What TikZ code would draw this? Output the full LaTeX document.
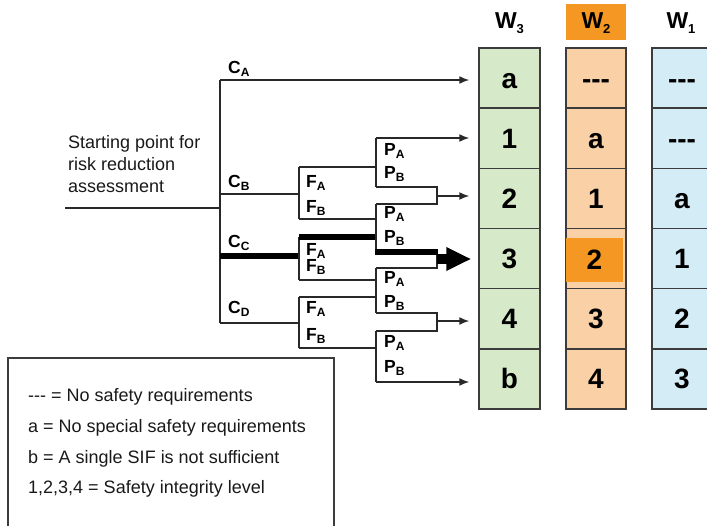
\documentclass[tikz,border=0pt]{standalone}
\usepackage{fontspec}
\setmainfont{Liberation Sans}
\usetikzlibrary{arrows.meta}
\definecolor{gfill}{RGB}{214,233,201}
\definecolor{ofill}{RGB}{250,208,166}
\definecolor{ohl}{RGB}{245,152,35}
\definecolor{bfill}{RGB}{212,236,245}
\definecolor{bordc}{RGB}{60,60,60}
\definecolor{linec}{RGB}{40,40,40}
\newcommand{\lsub}[1]{\raisebox{-0.4ex}{\fontsize{12}{12}\selectfont #1}}
\newcommand{\hsub}[1]{\raisebox{-0.4ex}{\fontsize{13}{13}\selectfont #1}}
\newcommand{\dashesB}{\mbox{-}\mbox{-}\mbox{-}}
\begin{document}
\begin{tikzpicture}[x=1pt,y=-1pt,line join=miter,
  tree/.style={line width=1.5pt, draw=linec},
  thk/.style={line width=6pt, draw=black},
  arr/.style={tree, -{Latex[length=10pt,width=8pt]}, shorten >=9pt},
  bigarr/.style={line width=10pt, draw=black, -{Triangle[length=25pt,width=22pt]}, shorten >=7pt},
  lab/.style={font=\fontsize{17.5}{17.5}\selectfont\bfseries, anchor=base west, inner sep=0pt, text=black},
  cellbox/.style={draw=bordc, line width=1.5pt, minimum width=61pt, minimum height=60.17pt, inner sep=0pt, text height=20pt, text depth=0pt, font=\fontsize{28}{28}\selectfont\bfseries},
  head/.style={inner sep=0pt, text height=16pt, text depth=3pt, font=\fontsize{23}{23}\selectfont\bfseries},
  legtext/.style={font=\fontsize{18}{18}\selectfont, anchor=base west, inner sep=0pt, text=black!90}]
\clip (0,0) rectangle (707,525);
\fill[white] (0,0) rectangle (707,525);

% headers
\node[head] (h3) at (509.5,22) {W\hsub{3}};
\node[head, fill=ohl, minimum width=60pt, minimum height=36pt] (h2) at (596,22) {W\hsub{2}};
\node[head] (h1) at (681,22) {W\hsub{1}};

% W3 column
\node[cellbox, fill=gfill] (w3a) at (509.5,78.1) {a};
\node[cellbox, fill=gfill] (w31) at (509.5,138.2) {1};
\node[cellbox, fill=gfill] (w32) at (509.5,198.4) {2};
\node[cellbox, fill=gfill] (w33) at (509.5,258.6) {3};
\node[cellbox, fill=gfill] (w34) at (509.5,318.8) {4};
\node[cellbox, fill=gfill] (w3b) at (509.5,378.9) {b};
% W2 column
\node[cellbox, fill=ofill, minimum width=60pt] (w2a) at (596,78.1) {\dashesB};
\node[cellbox, fill=ofill, minimum width=60pt] (w21) at (596,138.2) {a};
\node[cellbox, fill=ofill, minimum width=60pt] (w22) at (596,198.4) {1};
\node[cellbox, fill=ofill, minimum width=60pt] (w23) at (596,258.6) {};
\node[cellbox, fill=ofill, minimum width=60pt] (w24) at (596,318.8) {3};
\node[cellbox, fill=ofill, minimum width=60pt] (w2b) at (596,378.9) {4};
\node[cellbox, draw=none, fill=ohl, minimum width=57pt, minimum height=44pt] (hl) at (594.5,259.5) {2};
% W1 column
\node[cellbox, fill=bfill, minimum width=60pt] (w1a) at (682,78.1) {\dashesB};
\node[cellbox, fill=bfill, minimum width=60pt] (w11) at (682,138.2) {\dashesB};
\node[cellbox, fill=bfill, minimum width=60pt] (w12) at (682,198.4) {a};
\node[cellbox, fill=bfill, minimum width=60pt] (w13) at (682,258.6) {1};
\node[cellbox, fill=bfill, minimum width=60pt] (w14) at (682,318.8) {2};
\node[cellbox, fill=bfill, minimum width=60pt] (w1b) at (682,378.9) {3};

% start text
\node[legtext] (s1) at (68,148) {Starting point for};
\node[legtext] (s2) at (68,170) {risk reduction};
\node[legtext] (s3) at (68,192) {assessment};

% coordinates of the tree
\coordinate (st) at (65,208);
\coordinate (tS) at (220,208);
\coordinate (tA) at (220,80);
\coordinate (tB) at (220,194);
\coordinate (tC) at (220,256);
\coordinate (tD) at (220,323);
\coordinate (fB) at (299,194);
\coordinate (fBa) at (299,167);
\coordinate (fBb) at (299,219);
\coordinate (fC) at (299,256);
\coordinate (fCa) at (299,237);
\coordinate (fCb) at (299,280);
\coordinate (fD) at (299,323);
\coordinate (fDa) at (299,297);
\coordinate (fDb) at (299,348);
\coordinate (p1t) at (376,138);
\coordinate (p1b) at (376,187);
\coordinate (p2t) at (376,204);
\coordinate (p2b) at (376,252);
\coordinate (p3t) at (376,268);
\coordinate (p3b) at (376,313);
\coordinate (p4t) at (376,331);
\coordinate (p4b) at (376,382);
\coordinate (j1t) at (437,187);
\coordinate (j1b) at (437,204);
\coordinate (j1m) at (437,196);
\coordinate (j2t) at (437,252);
\coordinate (j2b) at (437,268);
\coordinate (j2m) at (437,259);
\coordinate (j3t) at (437,313);
\coordinate (j3b) at (437,331);
\coordinate (j3m) at (437,321);

% trunk
\draw[tree] (st) -- (tS);
\draw[tree] (tA) -- (tD);
\draw[arr] (tA) -- (tA -| w3a.west);
% C_B
\draw[tree] (tB) -- (fB);
\draw[tree] (fBa) -- (fBb);
\draw[tree] (fBa) -- (fBa -| p1t);
\draw[tree] (fBb) -- (fBb -| p2t);
% C_C
\draw[thk] (tC) -- (fC);
\draw[tree] (fCa) -- (fCb);
\draw[thk] (fCa) -- ([xshift=0.75pt]fCa -| p2t);
\draw[tree] (fCb) -- (fCb -| p3t);
% C_D
\draw[tree] (tD) -- (fD);
\draw[tree] (fDa) -- (fDb);
\draw[tree] (fDa) -- (fDa -| p3t);
\draw[tree] (fDb) -- (fDb -| p4t);
% P brackets
\draw[tree] (p1t) -- (p1b);
\draw[tree] (p2t) -- (p2b);
\draw[tree] (p3t) -- (p3b);
\draw[tree] (p4t) -- (p4b);
\draw[tree] (p1b) -- (j1t) -- (j1b) -- (p2t);
\draw[tree] (j2t) -- (j2b) -- (p3t);
\draw[thk] ([xshift=-0.75pt]p2b) -- ([xshift=0.75pt]j2t);
\draw[tree] (p3b) -- (j3t) -- (j3b) -- (p4t);
% arrows
\draw[arr] (p1t) -- (p1t -| w31.west);
\draw[arr] (j1m) -- (j1m -| w32.west);
\draw[bigarr] (j2m) -- (j2m -| w33.west);
\draw[arr] (j3m) -- (j3m -| w34.west);
\draw[arr] (p4b) -- (p4b -| w3b.west);

% C labels
\node[lab] (cA) at (228,73) {C\lsub{A}};
\node[lab] (cB) at (228,187) {C\lsub{B}};
\node[lab] (cC) at (228,247) {C\lsub{C}};
\node[lab] (cD) at (228,313) {C\lsub{D}};
% F labels
\node[lab] (fa1) at (306,187) {F\lsub{A}};
\node[lab] (fb1) at (306,212) {F\lsub{B}};
\node[lab] (fa2) at (306,255) {F\lsub{A}};
\node[lab] (fb2) at (306,271) {F\lsub{B}};
\node[lab] (fa3) at (306,313) {F\lsub{A}};
\node[lab] (fb3) at (306,340) {F\lsub{B}};
% P labels
\node[lab] (pa1) at (384,155) {P\lsub{A}};
\node[lab] (pb1) at (384,178) {P\lsub{B}};
\node[lab] (pa2) at (384,218) {P\lsub{A}};
\node[lab] (pb2) at (384,242) {P\lsub{B}};
\node[lab] (pa3) at (384,283) {P\lsub{A}};
\node[lab] (pb3) at (384,307) {P\lsub{B}};
\node[lab] (pa4) at (384,347) {P\lsub{A}};
\node[lab] (pb4) at (384,372) {P\lsub{B}};

% legend
\node[draw=bordc, line width=1.5pt, minimum width=326pt, minimum height=200pt, anchor=north west, inner sep=0pt] (leg) at (7,357) {};
\node[legtext] (l1) at (28,401) {\dashesB{} = No safety requirements};
\node[legtext] (l2) at (28,432) {a = No special safety requirements};
\node[legtext] (l3) at (28,463) {b = A single SIF is not sufficient};
\node[legtext] (l4) at (28,493) {1,2,3,4 = Safety integrity level};
\end{tikzpicture}
\end{document}
